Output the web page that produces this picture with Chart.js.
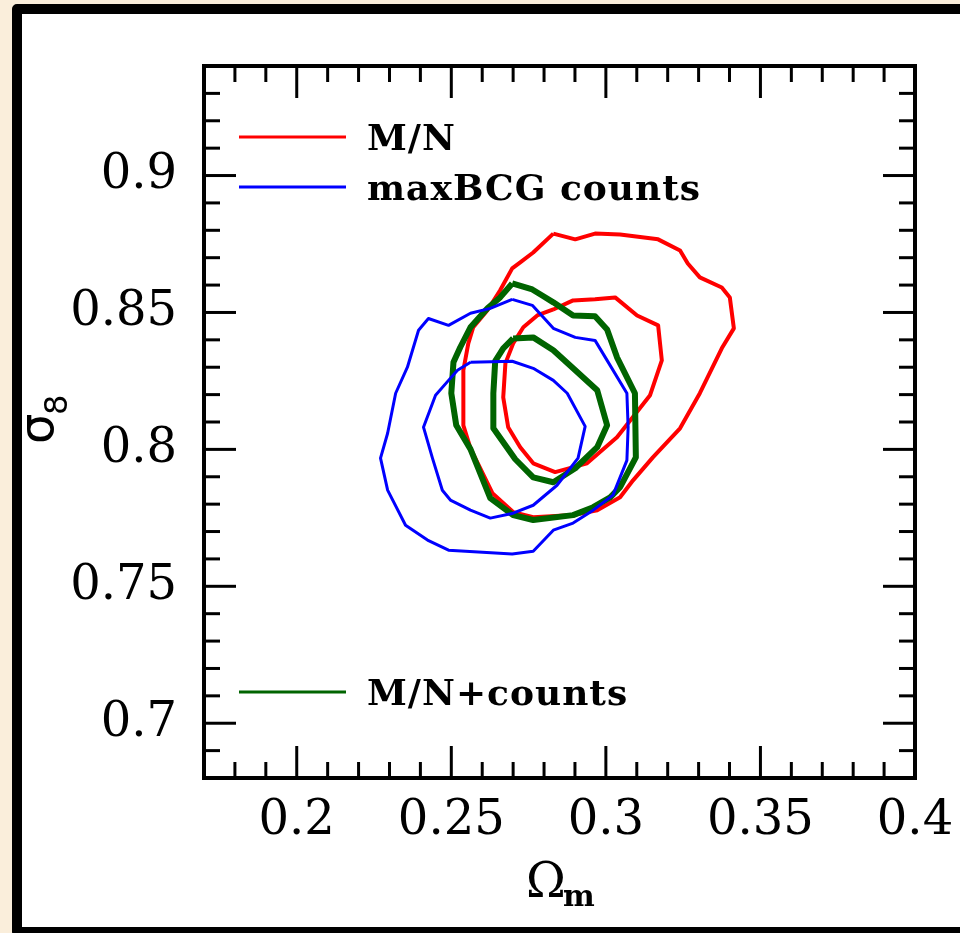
<!DOCTYPE html>
<html>
<head>
<meta charset="utf-8">
<script src="https://cdn.jsdelivr.net/npm/chart.js@4.4.1/dist/chart.umd.min.js"></script>
<style>
  html, body { margin: 0; padding: 0; width: 960px; height: 933px; overflow: hidden; background: #faeedb; }
  #frame { position: absolute; left: 12px; top: 4px; width: 980px; height: 933px; box-sizing: border-box;
           background: #fff; border: 10px solid #000; border-radius: 5px; }
  #chart { position: absolute; left: 0; top: 0; }
</style>
</head>
<body>
<div id="frame"></div>
<canvas id="chart" width="960" height="933"></canvas>
<script>
// Omega_m vs sigma_8 confidence contours

const xTicks = [0.2, 0.25, 0.3, 0.35, 0.4];
const yTicks = [0.7, 0.75, 0.8, 0.85, 0.9];
const legendLabels = ['M/N', 'maxBCG counts', 'M/N+counts'];

// M/N (red)
const mnOuterX = [0.2830, 0.2901, 0.2965, 0.3046, 0.3169, 0.3240, 0.3265, 0.3304, 0.3375, 0.3401, 0.3414, 0.3375,
                  0.3304, 0.3240, 0.3152, 0.3088, 0.3046, 0.2972, 0.2894, 0.2765, 0.2700, 0.2633, 0.2562, 0.2539,
                  0.2539, 0.2555, 0.2571, 0.2617, 0.2658, 0.2697, 0.2723, 0.2765];
const mnOuterY = [0.8788, 0.8767, 0.8788, 0.8785, 0.8767, 0.8726, 0.8679, 0.8628, 0.8591, 0.8555, 0.8442, 0.8369,
                  0.8205, 0.8077, 0.7971, 0.7887, 0.7825, 0.7778, 0.7760, 0.7752, 0.7771, 0.7840, 0.8004, 0.8088,
                  0.8289, 0.8387, 0.8446, 0.8508, 0.8581, 0.8661, 0.8683, 0.8719];
const mnInnerX = [0.2830, 0.2894, 0.2965, 0.3030, 0.3101, 0.3169, 0.3181, 0.3143, 0.3036, 0.2939, 0.2836, 0.2765,
                  0.2723, 0.2684, 0.2668, 0.2675, 0.2700, 0.2733, 0.2778];
const mnInnerY = [0.8511, 0.8544, 0.8548, 0.8555, 0.8489, 0.8453, 0.8325, 0.8198, 0.8044, 0.7949, 0.7917, 0.7949,
                  0.8008, 0.8081, 0.8190, 0.8314, 0.8387, 0.8446, 0.8489];

// maxBCG counts (blue)
const bcgOuterX = [0.2697, 0.2762, 0.2830, 0.2901, 0.2965, 0.3004, 0.3068, 0.3072, 0.3068, 0.3023, 0.2959, 0.2894,
                   0.2830, 0.2765, 0.2697, 0.2491, 0.2423, 0.2352, 0.2294, 0.2271, 0.2294, 0.2320, 0.2358, 0.2394,
                   0.2426, 0.2491, 0.2562, 0.2626];
const bcgOuterY = [0.8548, 0.8526, 0.8442, 0.8409, 0.8398, 0.8325, 0.8205, 0.8081, 0.7960, 0.7833, 0.7778, 0.7731,
                   0.7705, 0.7628, 0.7618, 0.7632, 0.7669, 0.7723, 0.7851, 0.7968, 0.8059, 0.8205, 0.8300, 0.8435,
                   0.8478, 0.8453, 0.8497, 0.8515];
const bcgInnerX = [0.2562, 0.2697, 0.2765, 0.2830, 0.2875, 0.2933, 0.2910, 0.2842, 0.2765, 0.2700, 0.2626, 0.2562,
                   0.2497, 0.2471, 0.2439, 0.2410, 0.2449, 0.2491, 0.2520];
const bcgInnerY = [0.8318, 0.8322, 0.8296, 0.8252, 0.8205, 0.8084, 0.7968, 0.7869, 0.7796, 0.7767, 0.7749, 0.7778,
                   0.7815, 0.7851, 0.7968, 0.8081, 0.8198, 0.8252, 0.8289];

// M/N + counts (green)
const jointOuterX = [0.2697, 0.2762, 0.2794, 0.2830, 0.2894, 0.2965, 0.3004, 0.3036, 0.3094, 0.3097, 0.3046, 0.3014,
                     0.2959, 0.2894, 0.2765, 0.2700, 0.2626, 0.2562, 0.2516, 0.2500, 0.2507, 0.2529, 0.2562, 0.2617,
                     0.2658];
const jointOuterY = [0.8606, 0.8584, 0.8562, 0.8537, 0.8489, 0.8486, 0.8438, 0.8336, 0.8205, 0.7971, 0.7862, 0.7825,
                     0.7789, 0.7760, 0.7742, 0.7760, 0.7822, 0.8001, 0.8088, 0.8205, 0.8318, 0.8373, 0.8446, 0.8515,
                     0.8555];
const jointInnerX = [0.2700, 0.2765, 0.2830, 0.2894, 0.2972, 0.3004, 0.2972, 0.2901, 0.2830, 0.2765, 0.2707, 0.2636,
                     0.2636, 0.2642, 0.2668];
const jointInnerY = [0.8405, 0.8409, 0.8362, 0.8296, 0.8216, 0.8088, 0.8008, 0.7931, 0.7880, 0.7898, 0.7964, 0.8077,
                     0.8205, 0.8322, 0.8369];

const RED = '#ff0000', BLUE = '#0000ff', GREEN = '#006400';

// build a closed polyline from x/y arrays
function closed(xs, ys) {
    const pts = xs.map((x, i) => ({ x: x, y: ys[i] }));
    pts.push(pts[0]);
    return pts;
}

function contour(xs, ys, color, width) {
    return {
        data: closed(xs, ys),
        borderColor: color,
        borderWidth: width,
        pointRadius: 0,
        tension: 0,
        fill: false,
        borderJoinStyle: 'round'
    };
}

function line(ctx, x1, y1, x2, y2) {
    ctx.beginPath();
    ctx.moveTo(x1, y1);
    ctx.lineTo(x2, y2);
    ctx.stroke();
}

// inward ticks on all four sides, the frame, legend and axis titles
const framePlugin = {
    id: 'framePlugin',
    afterDraw(chart) {
        const ctx = chart.ctx;
        const a = chart.chartArea;
        const xs = chart.scales.x, ys = chart.scales.y;
        ctx.save();
        ctx.strokeStyle = '#000';
        ctx.lineWidth = 3;
        for (let i = 17; i <= 40; i++) {
            const px = xs.getPixelForValue(i / 100);
            const len = i % 5 === 0 ? 32 : 16;
            line(ctx, px, a.bottom, px, a.bottom - len);
            line(ctx, px, a.top, px, a.top + len);
        }
        for (let i = 68; i <= 94; i++) {
            const py = ys.getPixelForValue(i / 100);
            const len = i % 5 === 0 ? 32 : 16;
            line(ctx, a.left, py, a.left + len, py);
            line(ctx, a.right, py, a.right - len, py);
        }
        ctx.lineWidth = 4;
        ctx.strokeRect(a.left, a.top, a.right - a.left, a.bottom - a.top);

        // legend
        const entries = [
            { label: legendLabels[0], color: RED, y: 137 },
            { label: legendLabels[1], color: BLUE, y: 187 },
            { label: legendLabels[2], color: GREEN, y: 692 }
        ];
        ctx.lineWidth = 3;
        ctx.font = 'bold 36px "DejaVu Serif"';
        ctx.letterSpacing = '1px';
        ctx.fillStyle = '#000';
        ctx.textAlign = 'left';
        ctx.textBaseline = 'alphabetic';
        entries.forEach(e => {
            ctx.strokeStyle = e.color;
            line(ctx, 239, e.y, 346, e.y);
            ctx.fillText(e.label, 367, e.y + 13);
        });
        ctx.letterSpacing = '0px';

        // x title: Omega_m
        ctx.font = '48px "DejaVu Serif"';
        ctx.fillText('Ω', 526, 897);
        ctx.font = 'bold 30px "DejaVu Serif"';
        ctx.fillText('m', 563, 906);

        // y title: sigma_8
        ctx.translate(53, 444);
        ctx.rotate(-Math.PI / 2);
        ctx.font = '48px "DejaVu Sans"';
        ctx.fillText('σ', 0, 0);
        ctx.font = '32px "DejaVu Sans"';
        ctx.fillText('8', 29, 14);
        ctx.restore();
    }
};

const tickFont = { family: 'DejaVu Serif', size: 48 };

new Chart(document.getElementById('chart'), {
    type: 'line',
    data: {
        datasets: [
            contour(bcgOuterX, bcgOuterY, BLUE, 3),
            contour(bcgInnerX, bcgInnerY, BLUE, 3),
            contour(jointOuterX, jointOuterY, GREEN, 6),
            contour(jointInnerX, jointInnerY, GREEN, 6),
            contour(mnOuterX, mnOuterY, RED, 4),
            contour(mnInnerX, mnInnerY, RED, 4)
        ]
    },
    options: {
        responsive: false,
        animation: false,
        parsing: false,
        layout: { padding: { top: 66, right: 45, left: 0, bottom: 0 } },
        plugins: { legend: { display: false }, tooltip: { enabled: false } },
        scales: {
            x: {
                type: 'linear',
                min: 0.17,
                max: 0.4,
                afterBuildTicks: s => { s.ticks = xTicks.map(v => ({ value: v })); },
                afterFit: s => { s.height = 155; s.paddingLeft = 0; s.paddingRight = 0; },
                grid: { display: false, drawTicks: false },
                border: { display: false },
                ticks: { font: tickFont, color: '#000', padding: 15, maxRotation: 0, autoSkip: false,
                         callback: v => String(v) }
            },
            y: {
                type: 'linear',
                min: 0.68,
                max: 0.94,
                afterBuildTicks: s => { s.ticks = yTicks.map(v => ({ value: v })); },
                afterFit: s => { s.width = 204; s.paddingTop = 0; s.paddingBottom = 0; },
                grid: { display: false, drawTicks: false },
                border: { display: false },
                ticks: { font: tickFont, color: '#000', padding: 27, autoSkip: false,
                         callback: v => String(v) }
            }
        }
    },
    plugins: [framePlugin]
});
</script>
</body>
</html>
